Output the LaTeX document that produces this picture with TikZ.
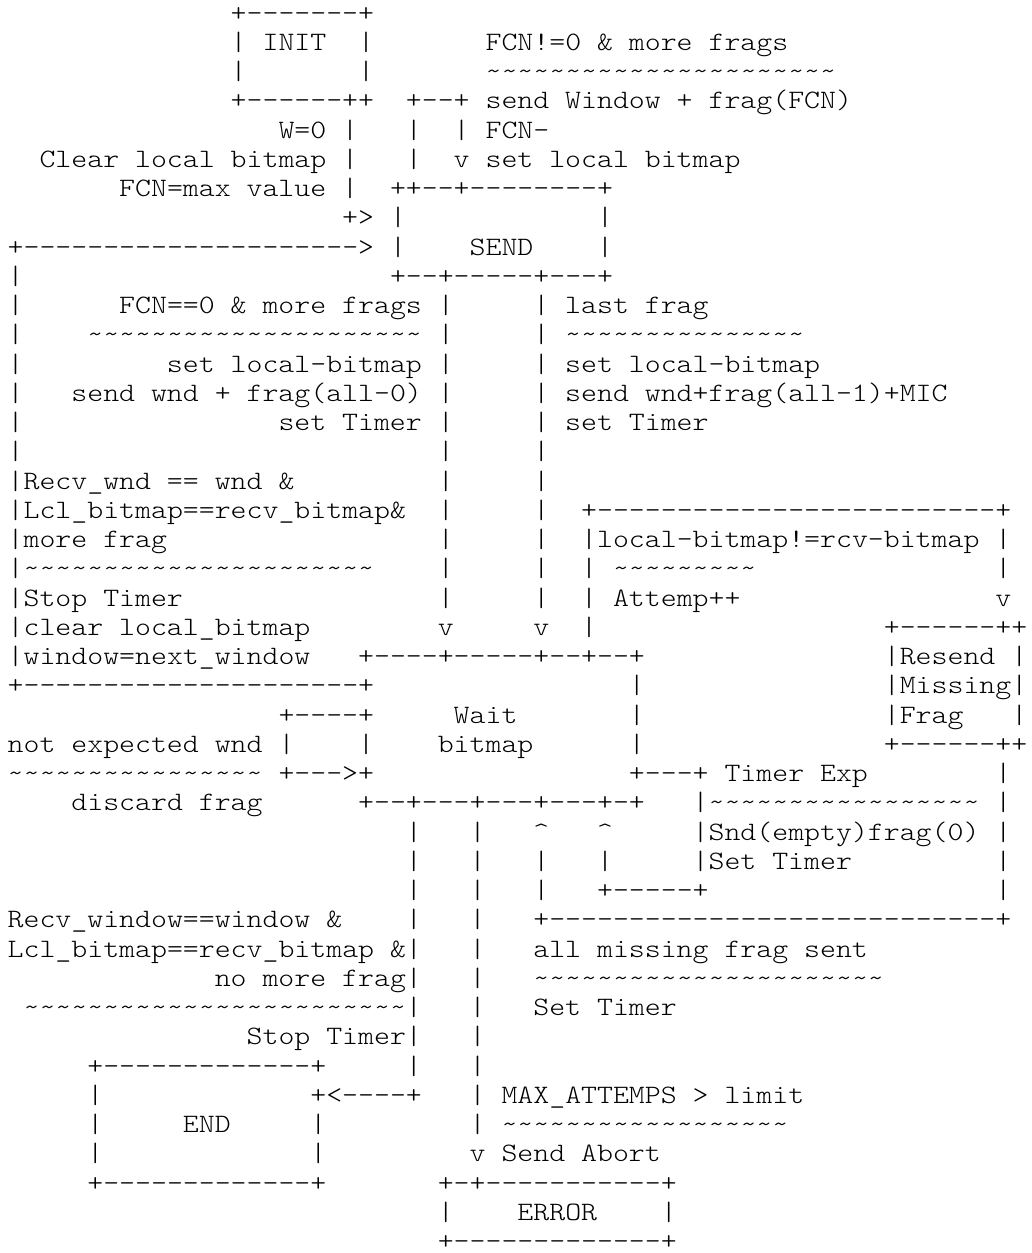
\documentclass[tikz,border=0pt]{standalone}
\usepackage{fontspec}
\newfontfamily\asciifont{lmmonolt10-regular.otf}[FakeStretch=1.143, Ligatures=TeXOff]
\newcommand{\wave}[1]{\foreach \k in {1,...,#1}{\textasciitilde}}
\newcommand{\hl}[1]{\foreach \k in {1,...,#1}{-}}

\begin{document}
\begin{tikzpicture}[x=15.93pt, y=-29.25pt,
    ascii/.style={anchor=base west, inner sep=0pt, outer sep=0pt,
      font=\asciifont\fontsize{26.55}{29.25}\selectfont}]
\useasboundingbox (-0.483,0.282) rectangle (64.24,43.12);

% INIT
\node[ascii] (initTop) at (14,1) {+\hl{7}+};
\foreach \r in {2,3} {
  \node[ascii] (initL\r) at (14,\r) {|};
  \node[ascii] (initR\r) at (22,\r) {|};
}
\node[ascii] (init) at (16,2) {INIT};
\node[ascii] (initBot) at (14,4) {+\hl{6}++};

% SEND -> SEND
\node[ascii] (g1) at (30,2) {FCN!=0 \& more frags};
\node[ascii] (g1w) at (30,3) {\wave{22}};
\node[ascii] (loopTop) at (25,4) {+--+};
\node[ascii] (g1a) at (30,4) {send Window + frag(FCN)};
\node[ascii] (loopL5) at (25,5) {|};
\node[ascii] (loopR5) at (28,5) {|};
\node[ascii] (g1b) at (30,5) {FCN-};
\node[ascii] (loopL6) at (25,6) {|};
\node[ascii] (loopV) at (28,6) {v};
\node[ascii] (g1c) at (30,6) {set local bitmap};

% INIT -> SEND
\node[ascii] (i1) at (17,5) {W=0};
\node[ascii] (i2) at (2,6) {Clear local bitmap};
\node[ascii] (i3) at (7,7) {FCN=max value};
\foreach \r in {5,6,7} \node[ascii] (iv\r) at (21,\r) {|};
\node[ascii] (iArr) at (21,8) {+>};

% SEND
\node[ascii] (sendTop) at (24,7) {++--+\hl{8}+};
\foreach \r in {8,9} {
  \node[ascii] (sendL\r) at (24,\r) {|};
  \node[ascii] (sendR\r) at (37,\r) {|};
}
\node[ascii] (send) at (29,9) {SEND};
\node[ascii] (sendBot) at (24,10) {+--+\hl{5}+---+};

% back to SEND
\node[ascii] (backArr) at (0,9) {+\hl{21}>};
\foreach \r in {10,...,16} \node[ascii] (back\r) at (0,\r) {|};

% SEND -> Wait
\foreach \r in {11,...,21} {
  \node[ascii] (sa\r) at (27,\r) {|};
  \node[ascii] (sb\r) at (33,\r) {|};
}
\node[ascii] (sa22) at (27,22) {v};
\node[ascii] (sb22) at (33,22) {v};
\node[ascii] (g2) at (7,11) {FCN==0 \& more frags};
\node[ascii] (g2w) at (5,12) {\wave{21}};
\node[ascii] (g2a) at (10,13) {set local-bitmap};
\node[ascii] (g2b) at (4,14) {send wnd + frag(all-0)};
\node[ascii] (g2c) at (17,15) {set Timer};
\node[ascii] (g3) at (35,11) {last frag};
\node[ascii] (g3w) at (35,12) {\wave{15}};
\node[ascii] (g3a) at (35,13) {set local-bitmap};
\node[ascii] (g3b) at (35,14) {send wnd+frag(all-1)+MIC};
\node[ascii] (g3c) at (35,15) {set Timer};

% Wait -> SEND
\node[ascii] (g4) at (0,17) {|Recv\_wnd == wnd \&};
\node[ascii] (g4a) at (0,18) {|Lcl\_bitmap==recv\_bitmap\&};
\node[ascii] (g4b) at (0,19) {|more frag};
\node[ascii] (g4w) at (0,20) {|\wave{22}};
\node[ascii] (g4c) at (0,21) {|Stop Timer};
\node[ascii] (g4d) at (0,22) {|clear local\_bitmap};
\node[ascii] (g4e) at (0,23) {|window=next\_window};
\node[ascii] (backBot) at (0,24) {+\hl{21}+};

% Wait -> Resend
\node[ascii] (rsTop) at (36,18) {+\hl{25}+};
\node[ascii] (g5) at (36,19) {|local-bitmap!=rcv-bitmap};
\node[ascii] (g5w) at (38,20) {\wave{9}};
\node[ascii] (g5a) at (38,21) {Attemp++};
\foreach \r in {20,21,22} \node[ascii] (rsL\r) at (36,\r) {|};
\foreach \r in {19,20} \node[ascii] (rsR\r) at (62,\r) {|};
\node[ascii] (rsV) at (62,21) {v};

% Resend Missing Frag
\node[ascii] (resTop) at (55,22) {+\hl{6}++};
\node[ascii] (res1) at (55,23) {|Resend};
\node[ascii] (res1r) at (63,23) {|};
\node[ascii] (res2) at (55,24) {|Missing|};
\node[ascii] (res3) at (55,25) {|Frag};
\node[ascii] (res3r) at (63,25) {|};
\node[ascii] (resBot) at (55,26) {+\hl{6}++};

% Wait bitmap
\node[ascii] (waitTop) at (22,23) {+\hl{4}+\hl{5}+--+--+};
\foreach \r in {24,25,26} \node[ascii] (waitR\r) at (39,\r) {|};
\node[ascii] (wait) at (28,25) {Wait};
\node[ascii] (bitmap) at (27,26) {bitmap};
\node[ascii] (waitBot) at (22,28) {+--+---+---+---+-+};

% Wait -> Wait
\node[ascii] (selfTop) at (17,25) {+\hl{4}+};
\node[ascii] (selfL) at (17,26) {|};
\node[ascii] (selfR) at (22,26) {|};
\node[ascii] (selfBot) at (17,27) {+--->+};
\node[ascii] (g6) at (0,26) {not expected wnd};
\node[ascii] (g6w) at (0,27) {\wave{16}};
\node[ascii] (g6a) at (4,28) {discard frag};

% timer expired
\node[ascii] (tmTop) at (39,27) {+---+};
\node[ascii] (g7) at (45,27) {Timer Exp};
\node[ascii] (g7w) at (43,28) {|\wave{17}};
\node[ascii] (g7a) at (43,29) {|Snd(empty)frag(0)};
\node[ascii] (g7b) at (43,30) {|Set Timer};
\node[ascii] (tmBot) at (37,31) {+\hl{5}+};
\node[ascii] (tmUp) at (37,29) {\textasciicircum};
\node[ascii] (tmL) at (37,30) {|};

% Resend -> Wait
\foreach \r in {27,...,31} \node[ascii] (rw\r) at (62,\r) {|};
\node[ascii] (rwBot) at (33,32) {+\hl{28}+};
\node[ascii] (rwUp) at (33,29) {\textasciicircum};
\foreach \r in {30,31} \node[ascii] (rwL\r) at (33,\r) {|};
\node[ascii] (g8) at (33,33) {all missing frag sent};
\node[ascii] (g8w) at (33,34) {\wave{22}};
\node[ascii] (g8a) at (33,35) {Set Timer};

% Wait -> END
\foreach \r in {29,...,32} \node[ascii] (we\r) at (25,\r) {|};
\node[ascii] (g9) at (0,32) {Recv\_window==window \&};
\node[ascii] (g9a) at (0,33) {Lcl\_bitmap==recv\_bitmap \&|};
\node[ascii] (g9b) at (13,34) {no more frag|};
\node[ascii] (g9w) at (1,35) {\wave{24}|};
\node[ascii] (g9c) at (15,36) {Stop Timer|};
\node[ascii] (we37) at (25,37) {|};
\node[ascii] (endArr) at (19,38) {+<\hl{4}+};

% END
\node[ascii] (endTop) at (5,37) {+\hl{13}+};
\foreach \r in {38,39,40} \node[ascii] (endL\r) at (5,\r) {|};
\foreach \r in {39,40} \node[ascii] (endR\r) at (19,\r) {|};
\node[ascii] (end) at (11,39) {END};
\node[ascii] (endBot) at (5,41) {+\hl{13}+};

% Wait -> ERROR
\foreach \r in {29,...,39} \node[ascii] (wx\r) at (29,\r) {|};
\node[ascii] (wxV) at (29,40) {v};
\node[ascii] (g10) at (31,38) {MAX\_ATTEMPS > limit};
\node[ascii] (g10w) at (31,39) {\wave{18}};
\node[ascii] (g10a) at (31,40) {Send Abort};

% ERROR
\node[ascii] (errTop) at (27,41) {+-+\hl{11}+};
\node[ascii] (errL) at (27,42) {|};
\node[ascii] (errR) at (41,42) {|};
\node[ascii] (err) at (32,42) {ERROR};
\node[ascii] (errBot) at (27,43) {+\hl{13}+};
\end{tikzpicture}
\end{document}
